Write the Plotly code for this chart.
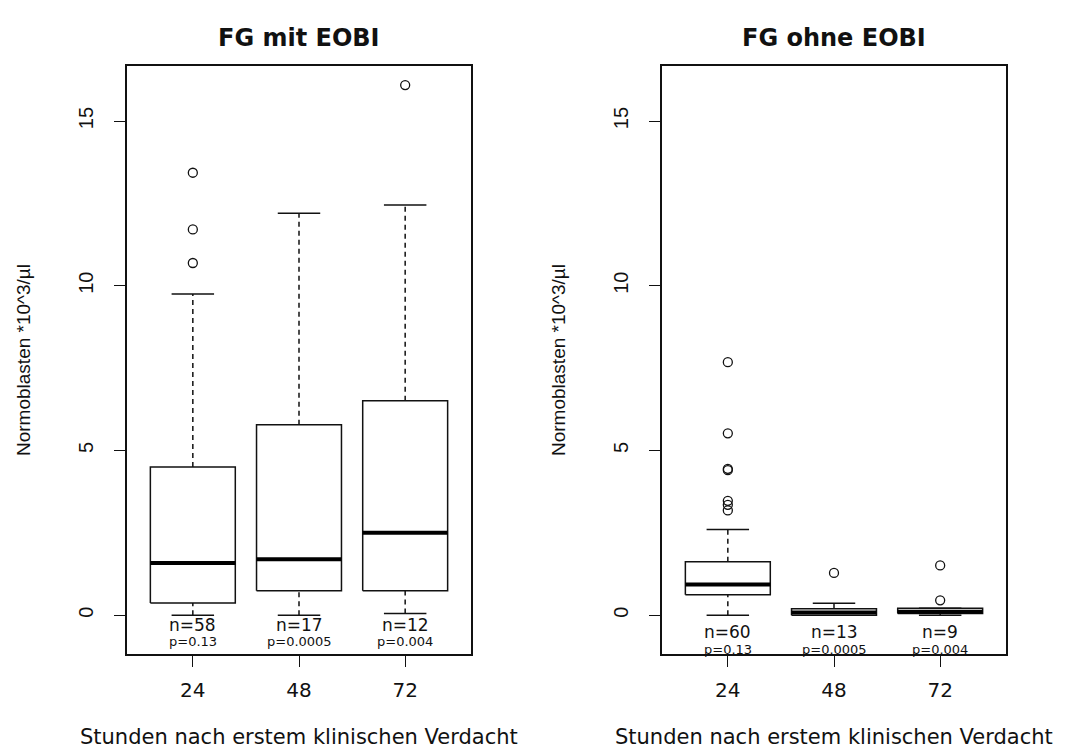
import plotly.graph_objects as go

# ---------------- data ----------------
groups = ["24", "48", "72"]

mit_q1 = [0.37, 0.74, 0.74]
mit_med = [1.58, 1.70, 2.50]
mit_q3 = [4.50, 5.78, 6.51]
mit_lo = [0.00, 0.00, 0.05]
mit_hi = [9.75, 12.20, 12.45]
mit_out = [[10.69, 11.71, 13.43], [], [16.09]]
mit_n = [58, 17, 12]

ohne_q1 = [0.62, 0.00, 0.05]
ohne_med = [0.93, 0.08, 0.10]
ohne_q3 = [1.62, 0.19, 0.21]
ohne_lo = [0.00, 0.00, 0.00]
ohne_hi = [2.60, 0.36, 0.21]
ohne_out = [[7.68, 5.52, 4.44, 4.40, 3.47, 3.35, 3.18], [1.28], [1.51, 0.45]]
ohne_n = [60, 13, 9]

p_labels = ["p=0.13", "p=0.0005", "p=0.004"]

titles = ["FG mit EOBI", "FG ohne EOBI"]
ylabel = "Normoblasten *10^3/µl"
xlabel = "Stunden nach erstem klinischen Verdacht"
yticks = [0, 5, 10, 15]

# ---------------- figure ----------------
W, H = 1065, 749
fig = go.Figure()

BOXW = 0.4   # half box width
CAPW = 0.2   # half cap width
LINE = "#111111"


def add_panel(q1, med, q3, lo, hi, outs, xa, ya):
    pos = list(range(1, len(q1) + 1))
    bx, by = [], []
    mx, my = [], []
    wx, wy = [], []
    cx, cy = [], []
    ox, oy = [], []
    for i, p in enumerate(pos):
        bx += [p - BOXW, p + BOXW, p + BOXW, p - BOXW, p - BOXW, None]
        by += [q1[i], q1[i], q3[i], q3[i], q1[i], None]
        mx += [p - BOXW, p + BOXW, None]
        my += [med[i], med[i], None]
        wx += [p, p, None, p, p, None]
        wy += [q3[i], hi[i], None, lo[i], q1[i], None]
        cx += [p - CAPW, p + CAPW, None, p - CAPW, p + CAPW, None]
        cy += [hi[i], hi[i], None, lo[i], lo[i], None]
        for v in outs[i]:
            ox.append(p)
            oy.append(v)
    common = dict(xaxis=xa, yaxis=ya, hoverinfo="skip", showlegend=False)
    fig.add_trace(go.Scatter(x=wx, y=wy, mode="lines",
                             line=dict(color=LINE, width=1.5, dash="5px,4px"), **common))
    fig.add_trace(go.Scatter(x=cx, y=cy, mode="lines",
                             line=dict(color=LINE, width=1.5), **common))
    fig.add_trace(go.Scatter(x=bx, y=by, mode="lines", fill="toself",
                             fillcolor="white", line=dict(color=LINE, width=1.5), **common))
    fig.add_trace(go.Scatter(x=mx, y=my, mode="lines",
                             line=dict(color="black", width=4), **common))
    fig.add_trace(go.Scatter(x=ox, y=oy, mode="markers",
                             marker=dict(symbol="circle-open", size=9, color=LINE,
                                         line=dict(width=1.3, color=LINE)), **common))


add_panel(mit_q1, mit_med, mit_q3, mit_lo, mit_hi, mit_out, "x", "y")
add_panel(ohne_q1, ohne_med, ohne_q3, ohne_lo, ohne_hi, ohne_out, "x2", "y2")

ydom = [(H - 654) / H, (H - 66) / H]
xdom1 = [127 / W, 471 / W]
xdom2 = [662 / W, 1006 / W]

xcommon = dict(range=[0.38, 3.62], tickvals=[1, 2, 3], ticktext=groups,
               showline=True, mirror=True, linecolor=LINE, linewidth=1.5,
               ticks="outside", ticklen=11, tickwidth=1.3, tickcolor=LINE,
               showgrid=False, zeroline=False, ticklabelstandoff=6,
               tickfont=dict(family="DejaVu Sans", size=20, color="#111111"),
               fixedrange=True)
ycommon = dict(range=[-1.18, 16.67], tickvals=yticks, ticktext=[str(t) for t in yticks],
               showline=True, mirror=True, linecolor=LINE, linewidth=1.5,
               ticks="outside", ticklen=11, tickwidth=1.3, tickcolor=LINE,
               showgrid=False, zeroline=False, tickangle=-90, ticklabelstandoff=13,
               tickfont=dict(family="Liberation Sans", size=20, color="#111111"),
               fixedrange=True)

fig.update_layout(
    width=W, height=H,
    margin=dict(l=0, r=0, t=0, b=0),
    paper_bgcolor="white", plot_bgcolor="white",
    showlegend=False,
    xaxis=dict(domain=xdom1, anchor="y", **xcommon),
    yaxis=dict(domain=ydom, anchor="x", **ycommon),
    xaxis2=dict(domain=xdom2, anchor="y2", **xcommon),
    yaxis2=dict(domain=ydom, anchor="x2", **ycommon),
)

ann = []
for k, (xa, ya, ns, ny, py) in enumerate([("x", "y", mit_n, -0.30, -0.81),
                                           ("x2", "y2", ohne_n, -0.51, -1.04)]):
    for i, n in enumerate(ns):
        ann.append(dict(x=i + 1, y=ny, xref=xa, yref=ya, text=f"n={n}", showarrow=False,
                        font=dict(family="DejaVu Sans", size=17, color="#111111"),
                        xanchor="center", yanchor="middle"))
        ann.append(dict(x=i + 1, y=py, xref=xa, yref=ya, text=p_labels[i], showarrow=False,
                        font=dict(family="DejaVu Sans", size=13, color="#111111"),
                        xanchor="center", yanchor="middle"))
    # panel title
    ann.append(dict(x=0.5, y=(H - 38) / H, xref=f"{xa} domain", yref="paper",
                    text=f"<b>{titles[k]}</b>", showarrow=False,
                    font=dict(family="DejaVu Sans", size=24, color="#111111"),
                    xanchor="center", yanchor="middle"))
    # x axis title
    ann.append(dict(x=0.5, y=(H - 737) / H, xref=f"{xa} domain", yref="paper",
                    text=xlabel, showarrow=False,
                    font=dict(family="DejaVu Sans", size=21, color="#111111"),
                    xanchor="center", yanchor="middle"))

# y axis titles
for xpix in (23, 558):
    ann.append(dict(x=xpix / W, y=(H - 360) / H, xref="paper", yref="paper",
                    text=ylabel, showarrow=False, textangle=-90,
                    font=dict(family="Liberation Sans", size=19, color="#111111"),
                    xanchor="center", yanchor="middle"))

fig.update_layout(annotations=ann)

fig.write_html("out.html")
